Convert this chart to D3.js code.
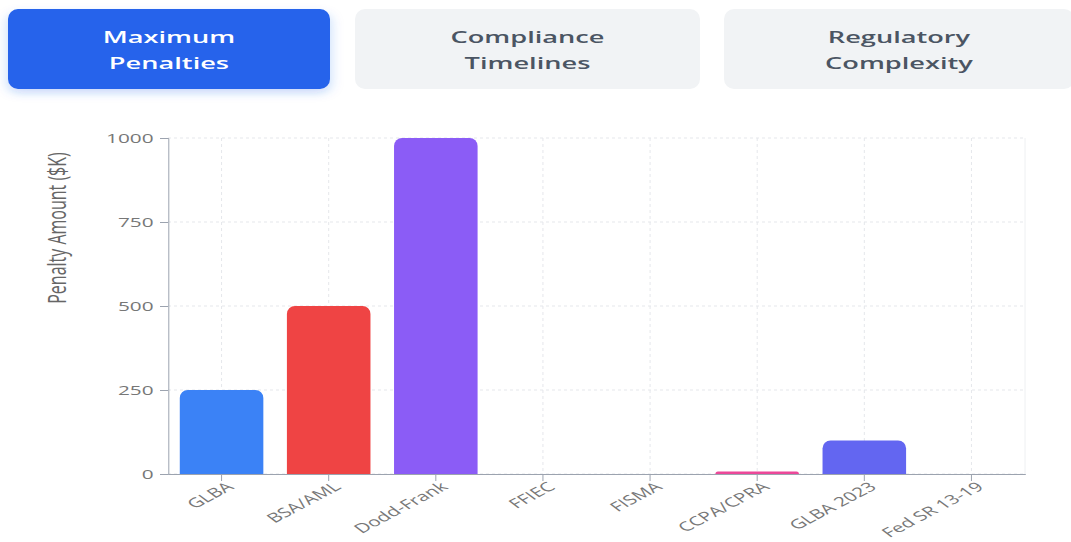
<!DOCTYPE html>
<html>
<head>
<meta charset="utf-8">
<script src="https://cdn.jsdelivr.net/npm/d3@7"></script>
<style>
  html, body { margin: 0; padding: 0; background: #fff; }
  svg { display: block; font-family: "Open Sans", sans-serif; }
</style>
</head>
<body>
<svg id="chart"></svg>
<script>
// --- Данные ---
const tabs = [["Maximum", "Penalties"], ["Compliance", "Timelines"], ["Regulatory", "Complexity"]];
const categories = ["GLBA", "BSA/AML", "Dodd-Frank", "FFIEC", "FISMA", "CCPA/CPRA", "GLBA 2023", "Fed SR 13-19"];
const penalties = [250, 500, 1000, 0, 0, 7.5, 100, 0];
const barColors = ["#3b82f6", "#ef4444", "#8b5cf6", "#10b981", "#f59e0b", "#ec4899", "#6366f1", "#14b8a6"];
const yTicks = [0, 250, 500, 750, 1000];

// Картинка растянута по горизонтали — рисуем в узком пространстве и растягиваем
const S = 1.6;
const W = 1071 / S, H = 542;

const svg = d3.select("#chart")
    .attr("width", 1071).attr("height", 542)
    .attr("viewBox", `0 0 ${W} ${H}`)
    .attr("preserveAspectRatio", "none");

// тень для активной кнопки
const defs = svg.append("defs");
const f = defs.append("filter").attr("id", "shadow").attr("x", "-20%").attr("y", "-20%").attr("width", "140%").attr("height", "160%");
f.append("feDropShadow").attr("dx", 0).attr("dy", 4).attr("stdDeviation", 4)
    .attr("flood-color", "#2563eb").attr("flood-opacity", 0.25);

// --- Кнопки-вкладки ---
const tabBox = [[8, 322], [355, 345], [724, 350]];
tabs.forEach((t, i) => {
    const [x0, w] = tabBox[i];
    const g = svg.append("g");
    g.append("rect")
        .attr("x", x0 / S).attr("y", 9)
        .attr("width", w / S).attr("height", 80)
        .attr("rx", 10 / S).attr("ry", 10)
        .attr("fill", i === 0 ? "#2563eb" : "#f1f3f5")
        .attr("filter", i === 0 ? "url(#shadow)" : null);
    t.forEach((line, j) => {
        g.append("text")
            .attr("x", (x0 + w / 2) / S).attr("y", 43 + j * 26)
            .attr("text-anchor", "middle")
            .attr("font-size", 17).attr("font-weight", 600)
            .attr("fill", i === 0 ? "#ffffff" : "#4b5563")
            .text(line);
    });
});

// --- График ---
const pLeft = 168 / S, pRight = 1025 / S, pTop = 138, pBottom = 474;

const x = d3.scaleBand().domain(categories).range([pLeft, pRight]).paddingInner(0.22).paddingOuter(0.11);
const y = d3.scaleLinear().domain([0, 1000]).range([pBottom, pTop]);

// сетка
svg.append("g")
    .selectAll("line")
    .data(yTicks)
    .join("line")
    .attr("x1", pLeft).attr("x2", pRight)
    .attr("y1", d => y(d)).attr("y2", d => y(d))
    .attr("stroke", "#e5e7eb").attr("stroke-dasharray", "3 3")
    .attr("vector-effect", "non-scaling-stroke");

svg.append("g")
    .selectAll("line")
    .data(categories)
    .join("line")
    .attr("x1", d => x(d) + x.bandwidth() / 2).attr("x2", d => x(d) + x.bandwidth() / 2)
    .attr("y1", pTop).attr("y2", pBottom)
    .attr("stroke", "#e5e7eb").attr("stroke-dasharray", "3 3")
    .attr("vector-effect", "non-scaling-stroke");

svg.append("line")
    .attr("x1", pRight).attr("x2", pRight).attr("y1", pTop).attr("y2", pBottom)
    .attr("stroke", "#eef0f2").attr("vector-effect", "non-scaling-stroke");

// столбцы со скруглённым верхом
const rx = 8 / S, ry = 8;
function barPath(d, i) {
    const x0 = x(categories[i]), w = x.bandwidth();
    const y0 = y(d), yb = y(0);
    const h = yb - y0;
    if (h <= 0) return "";
    const r = Math.min(ry, h);
    const rxx = rx * r / ry;
    return `M${x0},${yb} L${x0},${y0 + r} A${rxx},${r} 0 0 1 ${x0 + rxx},${y0}` +
        ` L${x0 + w - rxx},${y0} A${rxx},${r} 0 0 1 ${x0 + w},${y0 + r} L${x0 + w},${yb} Z`;
}
svg.append("g")
    .selectAll("path")
    .data(penalties)
    .join("path")
    .attr("d", barPath)
    .attr("fill", (d, i) => barColors[i]);

// оси
const yAxis = svg.append("g")
    .attr("transform", `translate(${pLeft},0)`)
    .call(d3.axisLeft(y).tickValues(yTicks).tickFormat(d3.format("d")).tickSize(8 / S).tickPadding(4));
yAxis.select(".domain").attr("stroke", "#9ca3af").attr("vector-effect", "non-scaling-stroke");
yAxis.selectAll(".tick line").attr("stroke", "#9ca3af").attr("vector-effect", "non-scaling-stroke");
yAxis.selectAll(".tick text").attr("fill", "#777").attr("font-size", 13).attr("font-family", "Open Sans");

const xAxis = svg.append("g")
    .attr("transform", `translate(0,${pBottom})`)
    .call(d3.axisBottom(x).tickSize(7).tickSizeOuter(0));
xAxis.select(".domain").attr("stroke", "#9ca3af").attr("vector-effect", "non-scaling-stroke");
xAxis.selectAll(".tick line").attr("stroke", "#9ca3af").attr("vector-effect", "non-scaling-stroke");
xAxis.selectAll(".tick text")
    .attr("fill", "#777").attr("font-size", 13).attr("font-family", "Open Sans")
    .attr("text-anchor", "end")
    .attr("transform", "translate(-1,3) rotate(-40)")
    .attr("dy", "0.35em");

// подпись оси Y
svg.append("text")
    .attr("transform", `translate(${66 / S},228) rotate(-90)`)
    .attr("text-anchor", "middle")
    .attr("font-size", 16)
    .attr("fill", "#666")
    .text("Penalty Amount ($K)");
</script>
</body>
</html>
